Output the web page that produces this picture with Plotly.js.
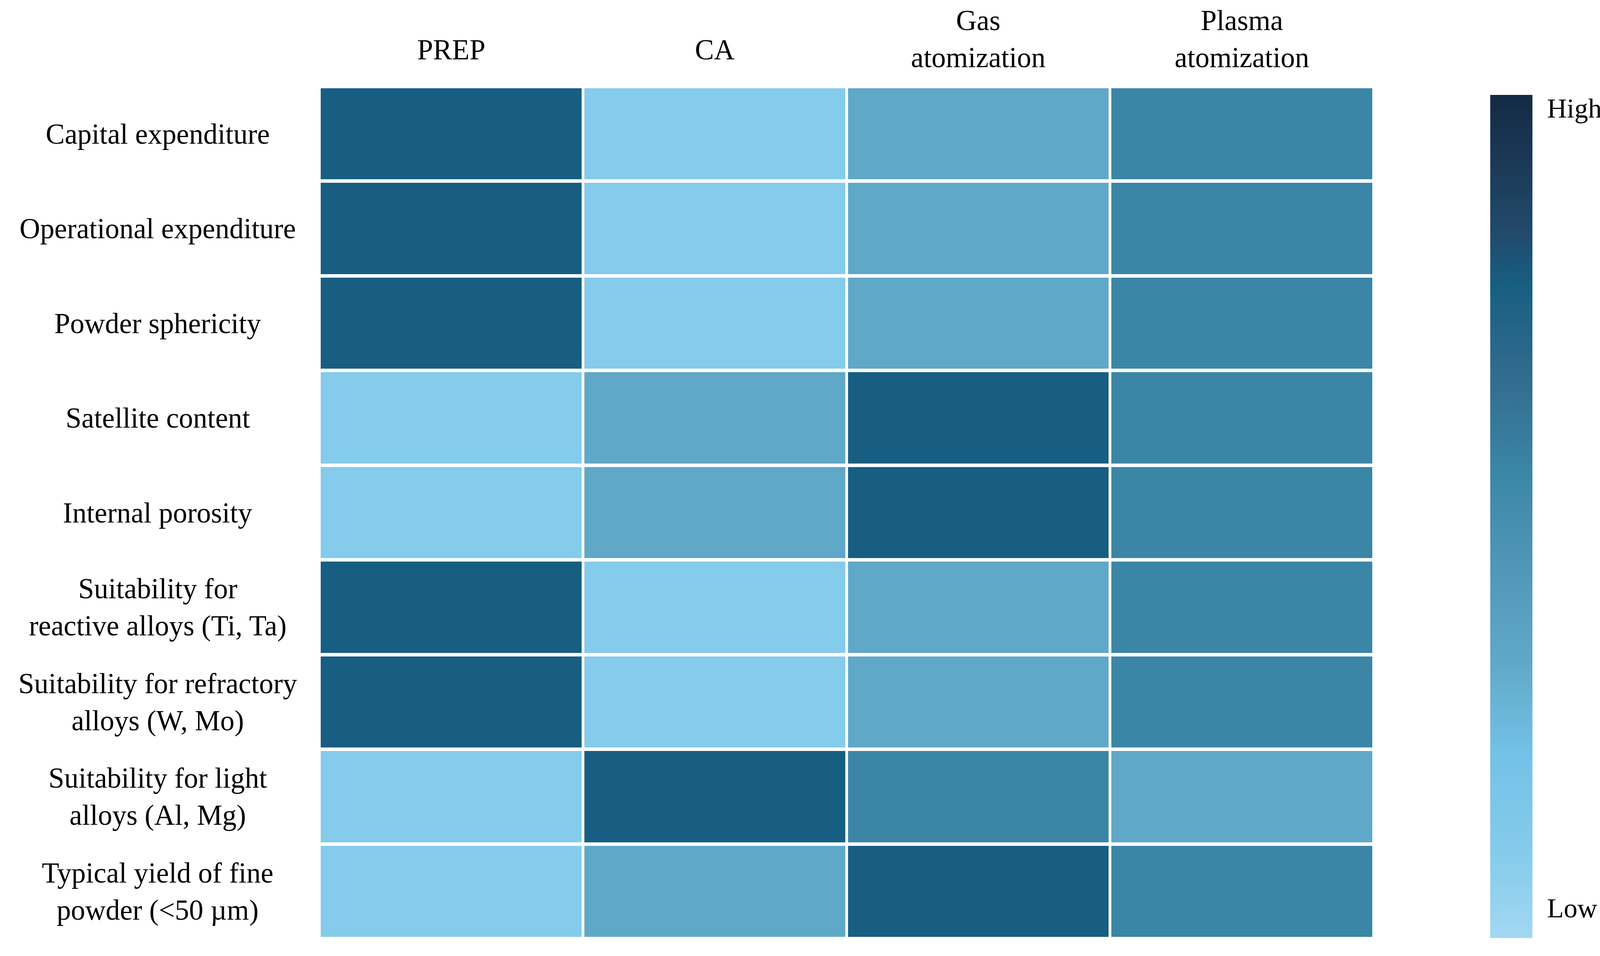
<!DOCTYPE html>
<html>
<head>
<meta charset="utf-8">
<script src="https://cdn.plot.ly/plotly-3.0.1.min.js"></script>
<style>html,body{margin:0;padding:0;background:#fff;}#chart{width:4142px;height:2448px;}</style>
</head>
<body>
<div id="chart"></div>
<script>
// ---- data ----
const methods = ['PREP', 'CA', 'Gas\natomization', 'Plasma\natomization'];
const criteria = [
  'Capital expenditure',
  'Operational expenditure',
  'Powder sphericity',
  'Satellite content',
  'Internal porosity',
  'Suitability for\nreactive alloys (Ti, Ta)',
  'Suitability for refractory\nalloys (W, Mo)',
  'Suitability for light\nalloys (Al, Mg)',
  'Typical yield of fine\npowder (<50 µm)'
];
// relative level: 1 = low ... 4 = high
const levels = [
  [4, 1, 2, 3],
  [4, 1, 2, 3],
  [4, 1, 2, 3],
  [1, 2, 4, 3],
  [1, 2, 4, 3],
  [4, 1, 2, 3],
  [4, 1, 2, 3],
  [1, 4, 3, 2],
  [1, 2, 4, 3]
];
const scaleLabels = ['High', 'Low'];

// ---- helpers ----
const fmt = s => s.replace(/&/g, '&amp;').replace(/</g, '&lt;').replace(/\n/g, '<br>');
const FONT = '"Liberation Serif", "Times New Roman", serif';
const zmin = 0.55, zmax = 5.0;

const colorscale = [
  [0.0, '#a2d7f2'],
  [0.101, '#85cbeb'],
  [0.22, '#73c1e6'],
  [0.326, '#60a8c8'],
  [0.45, '#4f95b7'],
  [0.551, '#3b86a6'],
  [0.66, '#336d8f'],
  [0.775, '#175e82'],
  [0.84, '#22496a'],
  [1.0, '#132a44']
];

const trace = {
  type: 'heatmap',
  x: methods,
  y: criteria,
  z: levels,
  zmin: zmin,
  zmax: zmax,
  colorscale: colorscale,
  xgap: 7,
  ygap: 9,
  hoverinfo: 'skip',
  colorbar: {
    x: 1.1104, xanchor: 'left',
    y: 0.4957, yanchor: 'middle',
    len: 2159, lenmode: 'pixels',
    thickness: 108, thicknessmode: 'pixels',
    xpad: 0, ypad: 0,
    outlinewidth: 0,
    tickmode: 'array',
    tickvals: [4.93, 0.71],
    ticktext: scaleLabels,
    ticks: 'outside', ticklen: 24, tickcolor: 'rgba(0,0,0,0)',
    tickfont: {family: FONT, size: 70, color: '#000'}
  }
};

const annotations = [];
methods.forEach(m => {
  const nLines = m.split('\n').length;
  annotations.push({
    xref: 'x', yref: 'paper', x: m, y: 1.0435 + (nLines - 1) * 0.0124,
    xanchor: 'center', yanchor: 'middle', align: 'center', showarrow: false,
    text: fmt(m), font: {family: FONT, size: 73, color: '#000'}
  });
});
criteria.forEach(c => {
  annotations.push({
    xref: 'paper', yref: 'y', x: -0.1534, y: c,
    xanchor: 'center', yanchor: 'middle', align: 'center', showarrow: false,
    text: fmt(c), font: {family: FONT, size: 73, color: '#000'}
  });
});

const layout = {
  width: 4142, height: 2448,
  margin: {l: 818, r: 625, t: 222, b: 44, pad: 0},
  paper_bgcolor: '#fff', plot_bgcolor: '#fff',
  xaxis: {showticklabels: false, showgrid: false, zeroline: false, ticks: '', showline: false},
  yaxis: {showticklabels: false, showgrid: false, zeroline: false, ticks: '', showline: false, autorange: 'reversed'},
  annotations: annotations,
  font: {family: FONT, size: 73, color: '#000'}
};

Plotly.newPlot('chart', [trace], layout, {displayModeBar: false, staticPlot: true});
</script>
</body>
</html>
